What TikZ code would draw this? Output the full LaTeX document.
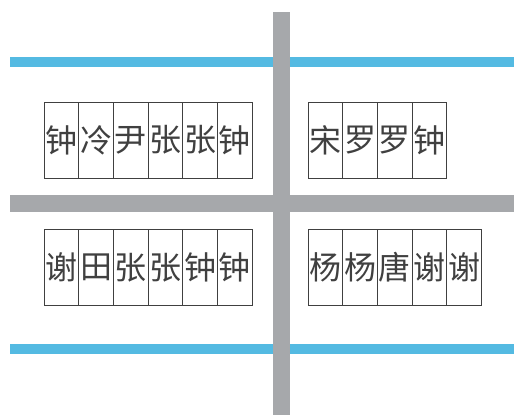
\documentclass[tikz,border=0pt]{standalone}
\usepackage{fontspec}
\newfontfamily\cjk{Noto Sans CJK SC}
\definecolor{roadgray}{RGB}{166,168,171}
\definecolor{riverblue}{RGB}{84,186,226}
\def\drawroad{\draw[color=roadgray, line width=17pt]}
\def\drawriver{\draw[color=riverblue, line width=10pt]}
\tikzset{seat/.style={draw=black!75, line width=0.7pt, minimum width=34.7pt,
  minimum height=76pt, inner sep=0pt, text=black!75,
  font=\cjk\fontsize{32}{32}\selectfont}}

\begin{document}
\begin{tikzpicture}[x=1pt,y=-1pt]
\useasboundingbox (0,0) rectangle (514,415);
\coordinate (riverna) at (10,62);
\coordinate (rivernb) at (514,62);
\coordinate (riversa) at (10,348.5);
\coordinate (riversb) at (514,348.5);
\coordinate (roadn) at (281.5,12);
\coordinate (roads) at (281.5,415);
\coordinate (roadw) at (10,203.5);
\coordinate (roade) at (514,203.5);
\drawriver (riverna) -- (rivernb);
\drawriver (riversa) -- (riversb);
\drawroad (roadn) -- (roads);
\drawroad (roadw) -- (roade);
% houses
\foreach \name [count=\i] in {钟,冷,尹,张,张,钟}
  \node[seat] (nw\i) at ({44+34.7*(\i-0.5)},140) {\name};
\foreach \name [count=\i] in {宋,罗,罗,钟}
  \node[seat] (ne\i) at ({308+34.7*(\i-0.5)},140) {\name};
\foreach \name [count=\i] in {谢,田,张,张,钟,钟}
  \node[seat] (sw\i) at ({44+34.7*(\i-0.5)},267.5) {\name};
\foreach \name [count=\i] in {杨,杨,唐,谢,谢}
  \node[seat] (se\i) at ({308+34.7*(\i-0.5)},267.5) {\name};
\end{tikzpicture}
\end{document}
